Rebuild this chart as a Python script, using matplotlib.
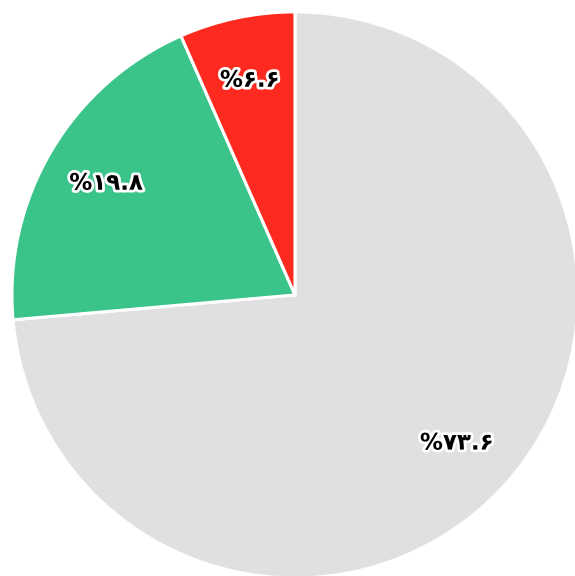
import matplotlib
matplotlib.use("Agg")
import matplotlib.pyplot as plt
import matplotlib.patheffects as pe
import numpy as np

# Share of each group, in percent
shares = [73.6, 19.8, 6.6]
labels = ["%۷۳.۶", "%۱۹.۸", "%۶.۶"]
colors = ["#e0e0e0", "#3bc48a", "#ff2a1f"]

fig = plt.figure(figsize=(5.75, 5.76), dpi=100)
ax = fig.add_axes([0, 0, 1, 1])
ax.set_aspect("equal")

wedges, _ = ax.pie(
    shares,
    colors=colors,
    startangle=90,
    counterclock=False,
    radius=1.0,
    wedgeprops=dict(edgecolor="white", linewidth=2.2, joinstyle="round"),
)

# Percentage labels placed at the middle angle of each slice
total = sum(shares)
angle = 90.0
for share, text in zip(shares, labels):
    span = 360.0 * share / total
    mid = np.deg2rad(angle - span / 2)
    angle -= span
    ax.text(0.775 * np.cos(mid), 0.775 * np.sin(mid), text,
            ha="center", va="center", fontsize=16.5, fontweight="bold",
            family=["DejaVu Sans"], color="black",
            path_effects=[pe.withStroke(linewidth=4, foreground="white")])

ax.set_xlim(-1.042, 0.989)
ax.set_ylim(-0.993, 1.042)
ax.axis("off")

fig.savefig("out.png", dpi=100, facecolor="white")
